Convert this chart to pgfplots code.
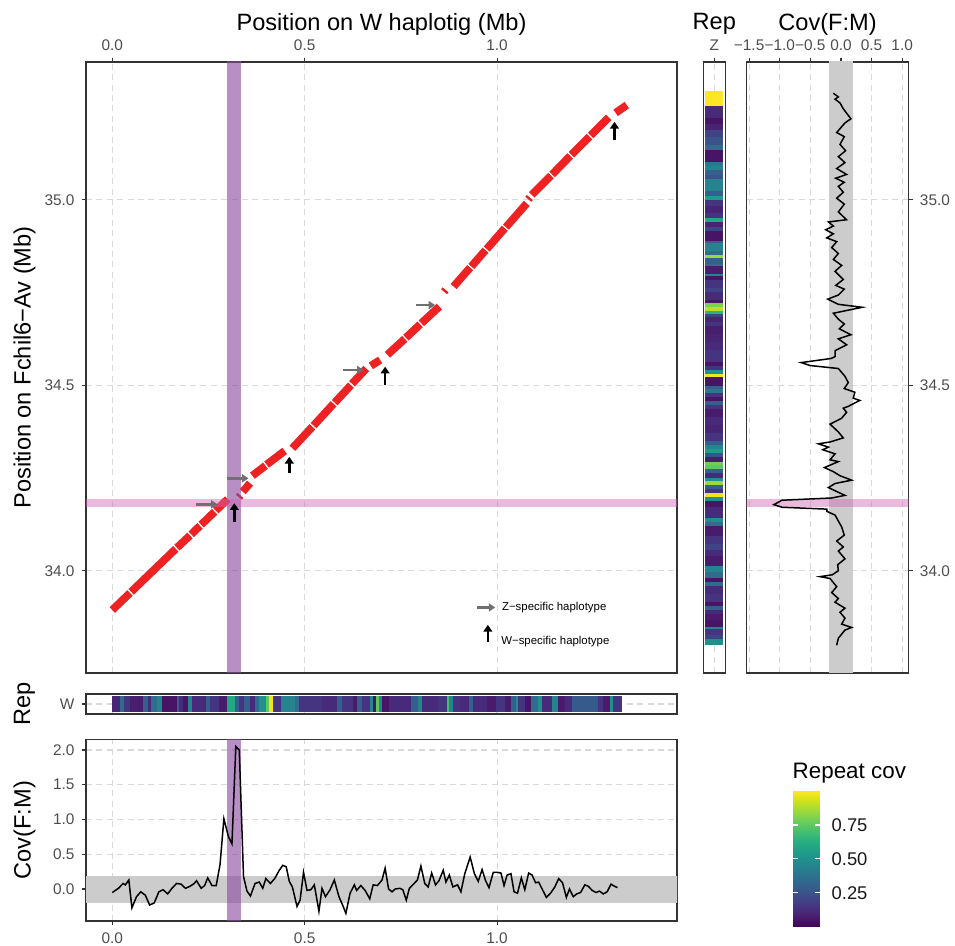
\documentclass[border=0pt]{standalone}
\usepackage{fontspec}
\setmainfont{Liberation Sans}
\usepackage{pgfplots}
\usepackage{pgfplotstable}
\pgfplotsset{compat=1.18}
\usetikzlibrary{arrows.meta}

\definecolor{framecol}{HTML}{333333}
\definecolor{tickcol}{HTML}{4D4D4D}
\definecolor{gridcol}{HTML}{D9D9D9}
\definecolor{dotred}{RGB}{238,34,34}
\definecolor{bandgray}{HTML}{CCCCCC}
\definecolor{bandpurple}{RGB}{138,74,160}
\definecolor{bandpink}{RGB}{210,100,180}
\definecolor{arrowgray}{HTML}{707070}

\newcommand{\ticksz}{\fontsize{7.7}{9}\selectfont}
\newcommand{\titlesz}{\fontsize{11.8}{14}\selectfont}

\pgfplotsset{
  gg/.style={
    scale only axis, anchor=north west,
    axis line style={draw=framecol, line width=0.55pt},
    tick style={draw=framecol, line width=0.55pt},
    major tick length=2.2pt, tick align=outside,
    grid=major,
    major grid style={draw=gridcol, line width=0.6pt, dash pattern=on 3pt off 2.2pt},
    tick label style={font=\ticksz, text=tickcol},
    label style={font=\titlesz, text=black},
    xlabel style={at={(axis description cs:0.5,1.0622)}, anchor=center},
    ylabel style={at={(axis description cs:-0.104,0.5)}, anchor=center},
  },
  zarrow/.style={arrowgray, line width=1.25pt, -{Triangle[length=3.2pt,width=4pt]}},
  warrow/.style={black, line width=1.3pt, -{Triangle[length=3.4pt,width=4.4pt]}},
}

% alignment blocks: W haplotig position vs Fchil6-Av position (Mb)
\pgfplotstableread{
x v
0.000 33.894
0.046 33.940
nan nan
0.049 33.943
0.165 34.059
nan nan
0.168 34.062
0.202 34.095
nan nan
0.205 34.098
0.228 34.121
nan nan
0.231 34.124
0.266 34.159
nan nan
0.269 34.162
0.300 34.193
nan nan
0.329 34.198
0.333 34.203
nan nan
0.339 34.213
0.358 34.236
nan nan
0.364 34.256
0.398 34.283
nan nan
0.401 34.286
0.448 34.323
nan nan
0.468 34.330
0.520 34.388
nan nan
0.523 34.391
0.575 34.450
nan nan
0.578 34.453
0.620 34.500
nan nan
0.623 34.504
0.660 34.545
nan nan
0.672 34.552
0.696 34.568
nan nan
0.715 34.582
0.760 34.625
nan nan
0.763 34.628
0.800 34.664
nan nan
0.803 34.667
0.850 34.712
nan nan
0.862 34.752
0.866 34.757
nan nan
0.887 34.766
0.930 34.817
nan nan
0.933 34.820
0.970 34.864
nan nan
0.973 34.867
1.020 34.923
nan nan
1.023 34.926
1.077 34.990
nan nan
1.081 35.001
1.085 35.006
nan nan
1.090 35.013
1.140 35.065
nan nan
1.143 35.068
1.190 35.118
nan nan
1.193 35.121
1.240 35.170
nan nan
1.243 35.173
1.290 35.222
nan nan
1.308 35.234
1.337 35.255
}\dotline

% repeat coverage along Fchil6-Av (run starts, top to bottom)
\pgfplotstableread{
x v c
1 35.293 1.00
1 35.2535 0.12
1 35.221 0.05
1 35.205 0.10
1 35.189 0.20
1 35.168 0.25
1 35.1465 0.35
1 35.133 0.05
1 35.1005 0.40
1 35.090 0.45
1 35.079 0.30
1 35.066 0.25
1 35.056 0.45
1 35.0235 0.30
1 35.011 0.55
1 35.000 0.15
1 34.983 0.10
1 34.965 0.15
1 34.951 0.60
1 34.940 0.10
1 34.927 0.20
1 34.917 0.05
1 34.890 0.30
1 34.882 0.45
1 34.863 0.35
1 34.852 0.85
1 34.842 0.30
1 34.826 0.35
1 34.820 0.08
1 34.799 0.45
1 34.7935 0.05
1 34.783 0.15
1 34.7615 0.20
1 34.751 0.12
1 34.729 0.05
1 34.722 0.80
1 34.711 0.90
1 34.7005 0.65
1 34.692 0.20
1 34.683 0.10
1 34.6705 0.15
1 34.660 0.08
1 34.638 0.10
1 34.617 0.12
1 34.596 0.15
1 34.5636 0.05
1 34.553 0.15
1 34.542 0.50
1 34.529 0.98
1 34.521 0.05
1 34.499 0.30
1 34.489 0.40
1 34.478 0.15
1 34.467 0.05
1 34.457 0.30
1 34.446 0.15
1 34.435 0.07
1 34.414 0.12
1 34.392 0.10
1 34.371 0.15
1 34.350 0.30
1 34.339 0.45
1 34.328 0.55
1 34.3176 0.25
1 34.307 0.08
1 34.294 0.78
1 34.2855 0.75
1 34.275 0.30
1 34.264 0.12
1 34.251 0.50
1 34.2405 0.85
1 34.230 0.30
1 34.219 0.15
1 34.2085 0.97
1 34.198 0.50
1 34.187 0.05
1 34.173 0.12
1 34.141 0.50
1 34.1304 0.35
1 34.120 0.07
1 34.093 0.15
1 34.0716 0.20
1 34.0555 0.12
1 34.0395 0.07
1 34.0127 0.45
1 33.9967 0.35
1 33.9806 0.05
1 33.970 0.35
1 33.959 0.12
1 33.938 0.15
1 33.9165 0.05
1 33.906 0.30
1 33.895 0.12
1 33.884 0.07
1 33.868 0.05
1 33.849 0.45
1 33.8416 0.15
1 33.828 0.20
1 33.815 0.50
1 33.801 0.50
}\repZ

% repeat coverage along the W haplotig (run starts)
\pgfplotstableread{
x y c
0 1 0.10
0.0197 1 0.35
0.0313 1 0.15
0.0452 1 0.08
0.0800 1 0.30
0.0916 1 0.12
0.1009 1 0.35
0.1172 1 0.45
0.1288 1 0.05
0.1671 1 0.30
0.1729 1 0.12
0.1845 1 0.05
0.1961 1 0.45
0.2077 1 0.12
0.2425 1 0.30
0.2541 1 0.15
0.2773 1 0.07
0.2981 1 0.60
0.3179 1 0.30
0.3295 1 0.15
0.3411 1 0.30
0.3585 1 0.12
0.3701 1 0.35
0.3817 1 0.50
0.3991 1 0.75
0.4084 1 0.98
0.4188 1 0.15
0.4374 1 0.45
0.4745 1 0.35
0.4861 1 0.15
0.5441 1 0.12
0.5847 1 0.30
0.5963 1 0.15
0.6253 1 0.07
0.6369 1 0.30
0.6485 1 0.15
0.6694 1 0.45
0.6775 1 0.05
0.6856 1 0.75
0.6926 1 0.45
0.7007 1 0.05
0.7181 1 0.12
0.7761 1 0.30
0.7935 1 0.45
0.8051 1 0.12
0.8457 1 0.15
0.8689 1 0.70
0.8747 1 0.45
0.8863 1 0.15
0.9037 1 0.12
0.9269 1 0.30
0.9385 1 0.12
0.9733 1 0.07
0.9965 1 0.15
1.0197 1 0.07
1.0371 1 0.30
1.0487 1 0.50
1.0545 1 0.15
1.0719 1 0.05
1.0893 1 0.35
1.1067 1 0.50
1.1160 1 0.12
1.1415 1 0.45
1.1589 1 0.07
1.1763 1 0.12
1.1937 1 0.28
1.2633 1 0.15
1.2749 1 0.07
1.2923 1 0.50
1.3005 1 0.15
1.3237 1 0.15
}\repW

% female:male coverage along Fchil6-Av
\pgfplotstableread{
c v
-0.124 35.287
-0.043 35.277
-0.097 35.271
-0.016 35.261
0.038 35.245
0.162 35.218
0.065 35.207
-0.070 35.181
0.054 35.170
-0.016 35.149
0.076 35.132
-0.043 35.116
0.065 35.100
-0.070 35.084
0.092 35.068
-0.086 35.058
0.054 35.047
-0.043 35.036
0.038 35.020
-0.070 35.004
0.054 34.988
-0.043 34.967
0.092 34.946
-0.205 34.940
-0.124 34.929
-0.249 34.919
-0.124 34.908
-0.232 34.897
-0.070 34.887
-0.151 34.871
-0.043 34.855
-0.124 34.839
0.011 34.823
-0.097 34.807
0.038 34.785
-0.086 34.769
0.054 34.759
-0.043 34.743
-0.216 34.732
-0.043 34.718
0.346 34.710
-0.124 34.694
-0.043 34.678
0.054 34.665
-0.027 34.652
0.162 34.636
-0.043 34.625
0.092 34.609
-0.097 34.593
-0.097 34.577
-0.162 34.572
-0.649 34.561
-0.503 34.553
-0.043 34.545
0.065 34.524
0.119 34.507
0.054 34.491
0.227 34.481
0.200 34.465
0.308 34.459
0.119 34.443
0.038 34.438
0.092 34.427
0.011 34.411
-0.178 34.395
-0.043 34.374
0.038 34.358
-0.178 34.347
-0.368 34.342
-0.205 34.333
-0.297 34.326
-0.097 34.315
-0.178 34.299
-0.043 34.294
-0.270 34.278
-0.124 34.267
-0.016 34.256
0.173 34.244
-0.097 34.235
-0.205 34.224
0.065 34.203
-0.151 34.196
-0.962 34.190
-1.097 34.178
-0.962 34.171
-0.232 34.166
-0.232 34.160
-0.097 34.150
-0.043 34.134
0.011 34.118
0.054 34.096
-0.070 34.080
0.038 34.064
-0.043 34.053
0.065 34.032
-0.054 34.016
-0.043 34.000
-0.141 33.989
-0.341 33.984
-0.178 33.979
-0.070 33.957
-0.151 33.941
-0.043 33.925
-0.097 33.915
0.065 33.899
-0.016 33.888
0.065 33.872
0.011 33.856
0.173 33.847
0.065 33.840
0.011 33.829
-0.043 33.818
-0.070 33.799
}\covZ

% female:male coverage along the W haplotig
\pgfplotstableread{
x c
0.000 -0.05
0.016 0.01
0.028 0.08
0.034 0.06
0.043 0.13
0.051 -0.27
0.063 -0.11
0.074 -0.04
0.086 -0.09
0.097 -0.23
0.109 -0.20
0.121 -0.04
0.132 -0.01
0.144 -0.07
0.155 0.01
0.167 0.08
0.179 0.07
0.190 0.01
0.202 0.04
0.213 0.08
0.219 0.12
0.231 0.01
0.240 0.05
0.248 0.16
0.259 0.05
0.270 0.05
0.280 0.35
0.290 1.01
0.302 0.75
0.311 0.65
0.321 2.05
0.330 2.00
0.341 0.18
0.350 -0.03
0.359 -0.10
0.371 0.08
0.382 0.10
0.391 0.01
0.399 0.15
0.411 0.08
0.422 0.15
0.434 0.27
0.443 0.34
0.452 0.32
0.460 0.11
0.468 0.03
0.480 -0.25
0.488 -0.16
0.497 0.24
0.506 -0.02
0.516 -0.01
0.525 0.06
0.537 -0.32
0.545 0.01
0.554 -0.11
0.566 -0.01
0.577 0.13
0.589 -0.11
0.600 -0.25
0.607 -0.35
0.618 -0.06
0.629 0.06
0.635 -0.02
0.646 0.05
0.657 -0.02
0.669 -0.14
0.678 0.06
0.689 0.05
0.701 0.13
0.709 0.30
0.718 0.00
0.727 -0.04
0.735 0.00
0.747 0.01
0.755 -0.01
0.764 -0.16
0.772 0.01
0.781 0.06
0.793 0.13
0.802 0.33
0.812 0.08
0.821 0.03
0.830 0.23
0.840 0.06
0.849 0.12
0.860 0.27
0.867 0.10
0.876 0.20
0.885 0.03
0.897 0.06
0.906 -0.04
0.916 0.22
0.930 0.46
0.941 0.22
0.951 0.11
0.961 0.28
0.970 0.12
0.979 0.02
0.990 0.24
1.001 0.24
1.010 0.23
1.018 0.05
1.026 0.20
1.036 0.22
1.044 -0.04
1.053 -0.06
1.063 0.16
1.072 -0.01
1.082 0.23
1.091 0.20
1.100 0.09
1.108 0.10
1.118 -0.01
1.128 -0.12
1.139 -0.06
1.150 0.03
1.160 0.15
1.170 0.09
1.180 -0.12
1.188 0.00
1.198 -0.11
1.207 -0.07
1.217 -0.05
1.228 0.06
1.237 0.04
1.247 -0.02
1.257 -0.05
1.266 -0.03
1.276 -0.07
1.286 -0.04
1.296 0.07
1.305 0.04
1.313 0.02
}\covW

\begin{document}
\begin{tikzpicture}

% ---- main dot plot
\begin{axis}[gg, at={(43pt,-31pt)}, width=295.5pt, height=305.5pt,
  xmin=-0.0683, xmax=1.4675, ymin=33.7243, ymax=35.3712,
  xtick={0,0.5,1}, xticklabels={0.0,0.5,1.0},
  ytick={34,34.5,35}, yticklabels={34.0,34.5,35.0},
  xtick pos=right, xticklabel pos=right, ytick pos=left,
  xlabel={Position on W haplotig (Mb)},
  ylabel={Position on Fchil6−Av (Mb)},
  unbounded coords=jump]
\addplot[dotred, line width=3.9pt] table[x=x, y=v] {\dotline};
\addplot[fill=bandpurple, fill opacity=0.62, draw=none]
  coordinates {(0.298,33) (0.335,33) (0.335,36) (0.298,36)} --cycle;
\addplot[fill=bandpink, fill opacity=0.45, draw=none]
  coordinates {(-1,34.171) (2,34.171) (2,34.193) (-1,34.193)} --cycle;
\addplot[zarrow] coordinates {(0.218,34.179) (0.2735,34.179)};
\addplot[zarrow] coordinates {(0.298,34.249) (0.354,34.249)};
\addplot[zarrow] coordinates {(0.599,34.541) (0.653,34.541)};
\addplot[zarrow] coordinates {(0.790,34.716) (0.839,34.716)};
\addplot[warrow] coordinates {(0.317,34.132) (0.317,34.182)};
\addplot[warrow] coordinates {(0.460,34.263) (0.460,34.307)};
\addplot[warrow] coordinates {(0.709,34.500) (0.709,34.550)};
\addplot[warrow] coordinates {(1.305,35.161) (1.305,35.210)};
\addplot[zarrow] coordinates {(0.947,33.901) (0.995,33.901)};
\addplot[warrow] coordinates {(0.976,33.809) (0.976,33.854)};
\node[anchor=west, inner sep=0pt, font=\fontsize{5.7}{7}\selectfont] at (axis cs:1.012,33.901) {Z−specific haplotype};
\node[anchor=west, inner sep=0pt, font=\fontsize{5.7}{7}\selectfont] at (axis cs:1.010,33.809) {W−specific haplotype};
\end{axis}

% ---- repeat strip along Z
\begin{axis}[gg, at={(351.65pt,-31pt)}, width=11pt, height=305.5pt,
  xmin=0.4, xmax=1.6, ymin=33.7243, ymax=35.3712,
  xtick={1}, xticklabels={Z}, xtick pos=right, xticklabel pos=right,
  ytick={34,34.5,35}, yticklabels={,,}, ytick style={draw=none},
  xlabel={Rep},
  colormap/viridis, point meta min=0, point meta max=1]
\addplot[mesh, shader=flat corner, line width=9.17pt, point meta=explicit]
  table[x=x, y=v, meta=c] {\repZ};
\end{axis}

% ---- coverage along Z
\begin{axis}[gg, at={(373.25pt,-31pt)}, width=81pt, height=305.5pt,
  xmin=-1.543, xmax=1.103, ymin=33.7243, ymax=35.3712,
  xtick={-1.5,-1,-0.5,0,0.5,1}, xticklabels={−1.5,−1.0,−0.5,0.0,0.5,1.0},
  xtick pos=right, xticklabel pos=right,
  ytick={34,34.5,35}, yticklabels={34.0,34.5,35.0},
  ytick pos=right, yticklabel pos=right,
  xlabel={Cov(F:M)}]
\addplot[fill=bandgray, draw=none]
  coordinates {(-0.195,33) (0.195,33) (0.195,36) (-0.195,36)} --cycle;
\addplot[fill=bandpink, fill opacity=0.45, draw=none]
  coordinates {(-2,34.171) (2,34.171) (2,34.193) (-2,34.193)} --cycle;
\addplot[black, line width=0.75pt] table[x=c, y=v] {\covZ};
\end{axis}

% ---- repeat strip along W
\begin{axis}[gg, at={(43pt,-347pt)}, width=295.5pt, height=10pt,
  xmin=-0.0683, xmax=1.4675, ymin=0.4, ymax=1.6,
  xtick={0,0.5,1}, xticklabels={,,}, xtick style={draw=none},
  ytick={1}, yticklabels={W}, ytick pos=left,
  ylabel={Rep},
  colormap/viridis, point meta min=0, point meta max=1]
\addplot[mesh, shader=flat corner, line width=8.33pt, point meta=explicit]
  table[x=x, y=y, meta=c] {\repW};
\end{axis}

% ---- colour key
\begin{axis}[at={(396.15pt,-395.5pt)}, anchor=north west, scale only axis,
  width=13.85pt, height=67.85pt, xmin=0, xmax=1, ymin=0, ymax=1,
  view={0}{90}, axis line style={draw=none},
  xtick=\empty, ytick={0.25,0.5,0.75}, yticklabels={0.25,0.50,0.75},
  ytick pos=right, yticklabel pos=right, ytick style={draw=none},
  yticklabel style={font=\fontsize{9.2}{11}\selectfont, text=black!90, xshift=2.3pt},
  colormap/viridis, point meta min=0, point meta max=1,
  title={Repeat cov},
  title style={at={(0,1)}, anchor=south west, inner sep=0pt, yshift=-2.5pt,
    font=\fontsize{11.2}{13}\selectfont}]
\addplot3[surf, shader=interp, mesh/rows=2, point meta=y]
  coordinates {(0,0,0) (1,0,0) (0,1,0) (1,1,0)};
\addplot3[white, line width=0.6pt] coordinates {(0,0.25,0) (0.19,0.25,0)};
\addplot3[white, line width=0.6pt] coordinates {(0.81,0.25,0) (1,0.25,0)};
\addplot3[white, line width=0.6pt] coordinates {(0,0.5,0) (0.19,0.5,0)};
\addplot3[white, line width=0.6pt] coordinates {(0.81,0.5,0) (1,0.5,0)};
\addplot3[white, line width=0.6pt] coordinates {(0,0.75,0) (0.19,0.75,0)};
\addplot3[white, line width=0.6pt] coordinates {(0.81,0.75,0) (1,0.75,0)};
\end{axis}

% ---- coverage along W
\begin{axis}[gg, at={(43pt,-369.65pt)}, width=295.5pt, height=90.85pt,
  xmin=-0.0683, xmax=1.4675, ymin=-0.46, ymax=2.154,
  xtick={0,0.5,1}, xticklabels={0.0,0.5,1.0}, xtick pos=left,
  ytick={0,0.5,1,1.5,2}, yticklabels={0.0,0.5,1.0,1.5,2.0}, ytick pos=left,
  ylabel={Cov(F:M)}]
\addplot[fill=bandgray, draw=none]
  coordinates {(-1,-0.195) (2,-0.195) (2,0.19) (-1,0.19)} --cycle;
\addplot[fill=bandpurple, fill opacity=0.62, draw=none]
  coordinates {(0.298,-1) (0.335,-1) (0.335,3) (0.298,3)} --cycle;
\addplot[black, line width=0.75pt] table[x=x, y=c] {\covW};
\end{axis}

\pgfresetboundingbox
\path[use as bounding box] (0,0) rectangle (477.5pt,-473pt);
\end{tikzpicture}
\end{document}
